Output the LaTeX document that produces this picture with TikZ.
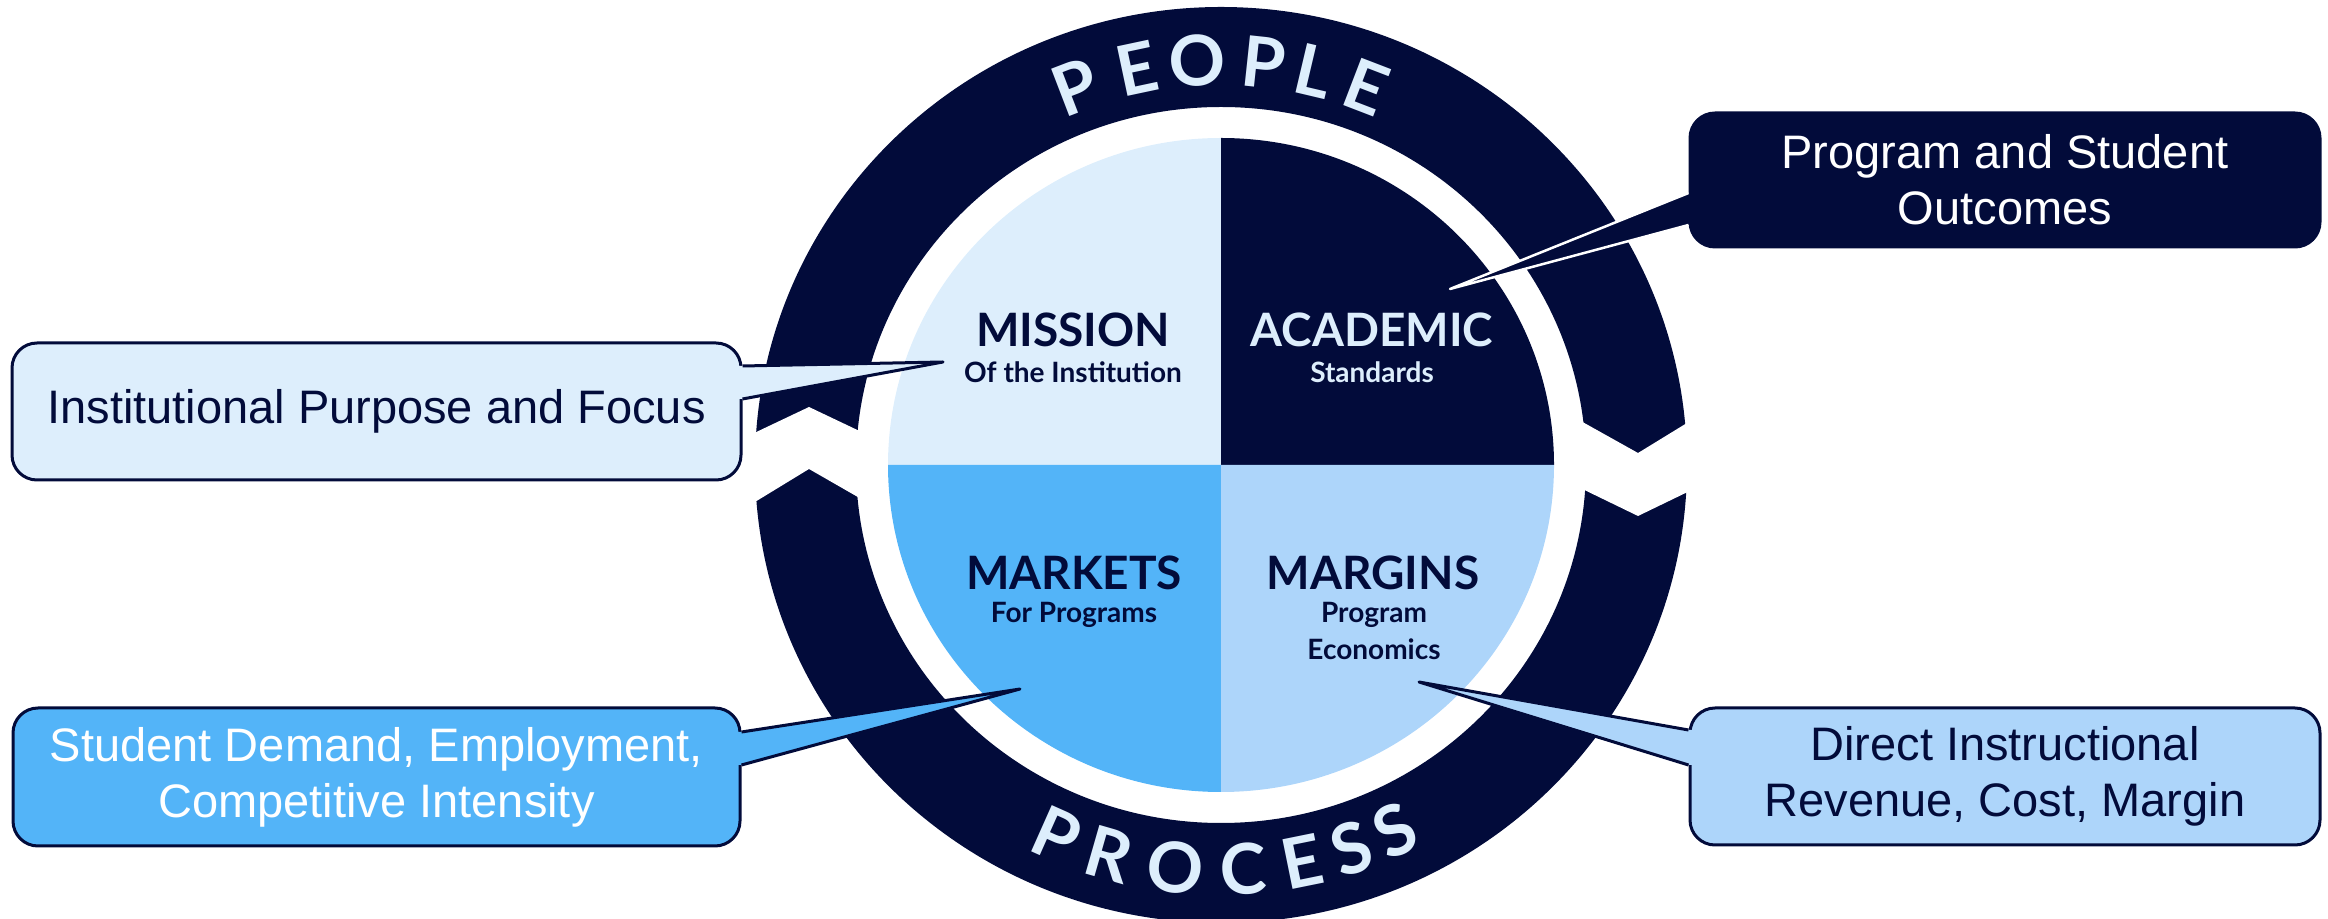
\documentclass[tikz,border=0pt]{standalone}
\usepackage{fontspec}
\setmainfont{Liberation Sans}
\newfontfamily\lato{Lato}
\definecolor{navy}{HTML}{020B3A}
\definecolor{pale}{HTML}{DDEEFC}
\definecolor{midblue}{HTML}{53B4F8}
\definecolor{lightblue}{HTML}{ADD5FA}
\begin{document}
\begin{tikzpicture}[x=1pt, y=1pt,
  callout/.style={draw=navy, line width=3pt, rounded corners=25pt, minimum width=729pt, minimum height=137pt, inner sep=0pt, align=center, font=\fontsize{47}{56}\selectfont},
  pointer/.style={line width=3pt, line join=round},
  head/.style={anchor=base, inner sep=0pt, font=\lato\bfseries\fontsize{46}{46}\selectfont},
  sub/.style={anchor=base, inner sep=0pt, font=\lato\bfseries\fontsize{28}{28}\selectfont},
  ringletter/.style={inner sep=0pt, text=pale, font=\lato\bfseries\fontsize{70}{70}\selectfont}]
\useasboundingbox (0,0) rectangle (2328,918);
\coordinate (c) at (1221,453);
\fill[navy, even odd rule] (c) ellipse [x radius=466, y radius=458] (c) ellipse [x radius=365, y radius=358];
\fill[white] (750,483) -- (809,511) -- (870,482) -- (870,414) -- (809,449) -- (750,413) -- cycle;
\fill[white] (1570,503) -- (1638,465) -- (1700,503) -- (1700,432) -- (1638,402) -- (1570,435) -- cycle;
\fill[pale] (c) -- +(-333,0) arc [start angle=180, end angle=90, x radius=333, y radius=327] -- cycle;
\fill[navy] (c) -- +(0,327) arc [start angle=90, end angle=0, x radius=333, y radius=327] -- cycle;
\fill[midblue] (c) -- +(-333,0) arc [start angle=180, end angle=270, x radius=333, y radius=327] -- cycle;
\fill[lightblue] (c) -- +(0,-327) arc [start angle=270, end angle=360, x radius=333, y radius=327] -- cycle;
\begin{scope}[shift={(c)}]
\foreach \a/\l [count=\i] in {111/P,102/E,93.4/O,83.9/P,76.7/L,69/E}
  \node[ringletter, rotate=\a-90] (people\i) at (\a:405) {\l};
\foreach \a/\l [count=\i] in {246/P,254/R,263.6/O,273.1/C,281.5/E,288.8/S,295.5/S}
  \node[ringletter, rotate=\a+90] (process\i) at (\a:405) {\l};
\end{scope}
\node[head, text=navy] (mission) at (1073,571) {MISSION};
\node[sub, text=navy] (missionsub) at (1073,535) {Of the Institution};
\node[head, text=pale] (academic) at (1372,571) {ACADEMIC};
\node[sub, text=pale] (academicsub) at (1372,535) {Standards};
\node[head, text=navy] (markets) at (1074,328) {MARKETS};
\node[sub, text=navy] (marketssub) at (1074,295) {For Programs};
\node[head, text=navy] (margins) at (1373,328) {MARGINS};
\node[sub, text=navy] (marginssub) at (1374,295) {Program};
\node[sub, text=navy] (marginssubb) at (1374,258) {Economics};
\node[callout, fill=pale, text=navy] (inst) at (376.5,506.5) {Institutional Purpose and Focus};
\node[callout, fill=navy, text=white, minimum width=630pt, minimum height=134pt] (outc) at (2005,738) {Program and Student\\Outcomes};
\node[callout, fill=midblue, text=white, minimum width=727pt, minimum height=138pt] (dem) at (376.5,141) {Student Demand, Employment,\\Competitive Intensity};
\node[callout, fill=lightblue, text=navy, minimum width=630pt] (rev) at (2005,141.5) {Direct Instructional\\Revenue, Cost, Margin};
\coordinate (insttip) at (943,556);
\coordinate (outctip) at (1450,629);
\coordinate (demtip) at (1020,229);
\coordinate (revtip) at (1419,236);
\fill[pale] ([shift={(-4,45.5)}]inst.east) -- ([yshift=45.5pt]inst.east) -- (insttip) -- ([yshift=12.5pt]inst.east) -- ([shift={(-4,12.5)}]inst.east) -- cycle;
\draw[pointer, navy] ([yshift=45.5pt]inst.east) -- (insttip) -- ([yshift=12.5pt]inst.east);
\fill[navy] ([shift={(4,-13)}]outc.west) -- ([yshift=-13pt]outc.west) -- (outctip) -- ([yshift=-45pt]outc.west) -- ([shift={(4,-45)}]outc.west) -- cycle;
\draw[pointer, white, line width=2.5pt] ([yshift=-13pt]outc.west) -- (outctip) -- ([yshift=-45pt]outc.west);
\fill[midblue] ([shift={(-4,45)}]dem.east) -- ([yshift=45pt]dem.east) -- (demtip) -- ([yshift=12pt]dem.east) -- ([shift={(-4,12)}]dem.east) -- cycle;
\draw[pointer, navy] ([yshift=45pt]dem.east) -- (demtip) -- ([yshift=12pt]dem.east);
\fill[lightblue] ([shift={(4,46.5)}]rev.west) -- ([yshift=46.5pt]rev.west) -- (revtip) -- ([yshift=11.5pt]rev.west) -- ([shift={(4,11.5)}]rev.west) -- cycle;
\draw[pointer, navy] ([yshift=46.5pt]rev.west) -- (revtip) -- ([yshift=11.5pt]rev.west);
\end{tikzpicture}
\end{document}
